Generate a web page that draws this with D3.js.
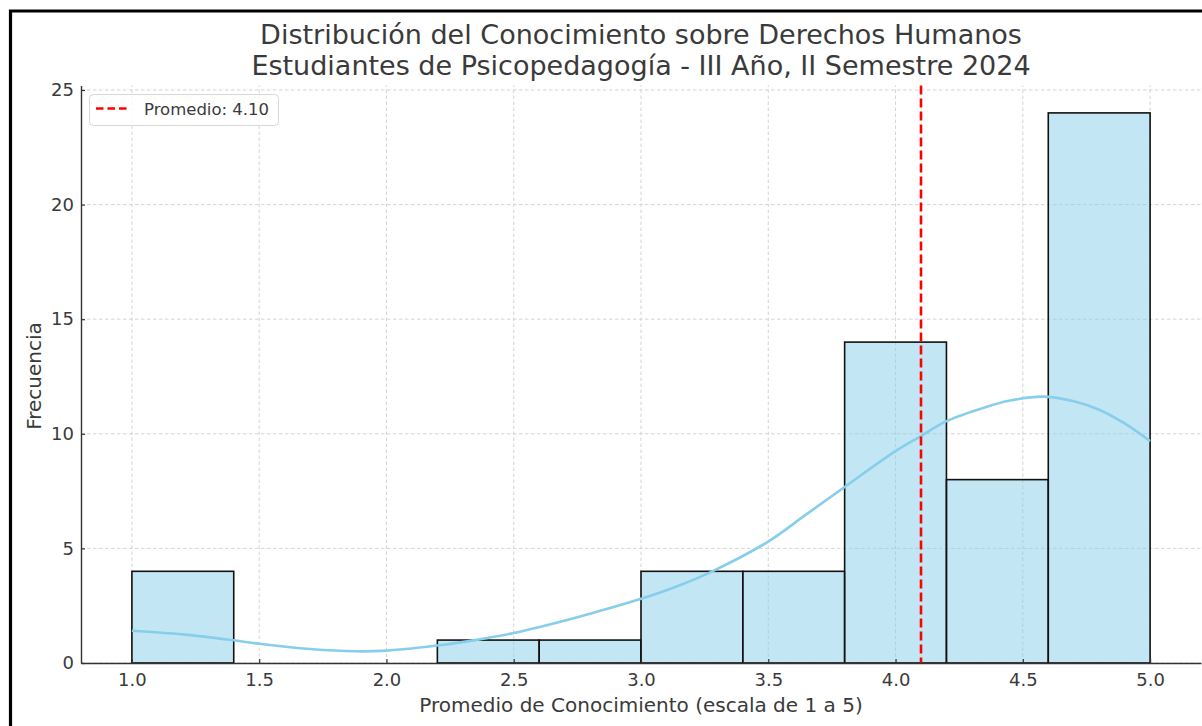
<!DOCTYPE html>
<html>
<head>
<meta charset="utf-8">
<script src="https://cdn.jsdelivr.net/npm/d3@7"></script>
<style>
  html, body { margin: 0; padding: 0; background: #fff; }
  svg { display: block; font-family: "DejaVu Sans", sans-serif; }
</style>
</head>
<body>
<svg id="chart" width="1202" height="726"></svg>
<script>
// ---- data ----
const binStarts = [1.0, 1.4, 1.8, 2.2, 2.6, 3.0, 3.4, 3.8, 4.2, 4.6];
const binWidth = 0.4;
const counts = [4, 0, 0, 1, 1, 4, 4, 14, 8, 24];
const kdeX = [1.0, 1.2, 1.4, 1.5, 1.7, 1.88, 2.0, 2.2, 2.36, 2.5, 2.75, 3.0, 3.14, 3.28, 3.5, 3.645, 3.8, 4.0, 4.1, 4.2, 4.35, 4.45, 4.58, 4.7, 4.8, 4.9, 5.0];
const kdeY = [1.41, 1.25, 0.99, 0.84, 0.61, 0.51, 0.54, 0.76, 1.02, 1.31, 2.0, 2.8, 3.34, 4.0, 5.3, 6.45, 7.68, 9.24, 9.9, 10.55, 11.15, 11.45, 11.62, 11.42, 11.05, 10.45, 9.68];
const meanValue = 4.10;
const xTicks = [1.0, 1.5, 2.0, 2.5, 3.0, 3.5, 4.0, 4.5, 5.0];
const yTicks = [0, 5, 10, 15, 20, 25];
const titleLines = ["Distribución del Conocimiento sobre Derechos Humanos",
                    "Estudiantes de Psicopedagogía - III Año, II Semestre 2024"];
const xLabel = "Promedio de Conocimiento (escala de 1 a 5)";
const yLabel = "Frecuencia";
const legendLabel = "Promedio: 4.10";

// ---- layout ----
const svg = d3.select("#chart");
const pLeft = 81, pRight = 1201, pTop = 85.4, pBottom = 663;
const x = d3.scaleLinear().domain([0.8, 5.2]).range([pLeft, pRight]);
const y = d3.scaleLinear().domain([0, 25.2]).range([pBottom, pTop]);
const textColor = "#3a3a3a";

// outer frame (partially visible)
svg.append("path")
  .attr("d", `M10.5,726 L10.5,11 L1202,11`)
  .attr("fill", "none").attr("stroke", "#000").attr("stroke-width", 3.2);

// grid
const grid = svg.append("g").attr("stroke", "#cfcfcf").attr("stroke-width", 0.9)
  .attr("stroke-dasharray", "3.5,2.5");
grid.selectAll(".gx").data(xTicks).join("line")
  .attr("x1", d => x(d)).attr("x2", d => x(d)).attr("y1", pBottom).attr("y2", pTop);
grid.selectAll(".gy").data(yTicks).join("line")
  .attr("x1", pLeft).attr("x2", pRight).attr("y1", d => y(d)).attr("y2", d => y(d));

// bars
svg.append("g").selectAll("rect").data(counts.map((c, i) => ({x0: binStarts[i], c})).filter(d => d.c > 0))
  .join("rect")
  .attr("x", d => x(d.x0))
  .attr("y", d => y(d.c))
  .attr("width", d => x(d.x0 + binWidth) - x(d.x0))
  .attr("height", d => y(0) - y(d.c))
  .attr("fill", "skyblue").attr("fill-opacity", 0.5)
  .attr("stroke", "#111").attr("stroke-width", 1.6);

// kde
const kdePts = kdeX.map((v, i) => [v, kdeY[i]]);
svg.append("path")
  .datum(kdePts)
  .attr("d", d3.line().x(d => x(d[0])).y(d => y(d[1])).curve(d3.curveCatmullRom.alpha(0.5)))
  .attr("fill", "none").attr("stroke", "skyblue").attr("stroke-width", 2.6);

// mean line
svg.append("line")
  .attr("x1", x(meanValue)).attr("x2", x(meanValue))
  .attr("y1", pTop).attr("y2", pBottom)
  .attr("stroke", "red").attr("stroke-width", 2.6)
  .attr("stroke-dasharray", "9,4");

// axes
const xAxis = d3.axisBottom(x).tickValues(xTicks).tickFormat(d3.format(".1f"))
  .tickSizeInner(-4).tickSizeOuter(0).tickPadding(10);
const gx = svg.append("g").attr("transform", `translate(0,${pBottom})`).call(xAxis);
const yAxis = d3.axisLeft(y).tickValues(yTicks).tickFormat(d3.format("d"))
  .tickSizeInner(-4).tickSizeOuter(0).tickPadding(7);
const gy = svg.append("g").attr("transform", `translate(${pLeft},0)`).call(yAxis);
[gx, gy].forEach(g => {
  g.select(".domain").attr("stroke", "#333").attr("stroke-width", 1.4);
  g.selectAll(".tick line").attr("stroke", "#333").attr("stroke-width", 1.2);
  g.selectAll(".tick text").attr("fill", textColor)
    .style("font-size", "18px").style("font-family", "DejaVu Sans");
});

// title
svg.append("g").selectAll("text").data(titleLines).join("text")
  .attr("x", (pLeft + pRight) / 2).attr("y", (d, i) => 44 + i * 31)
  .attr("text-anchor", "middle").attr("fill", textColor)
  .style("font-size", "27px").text(d => d);

// axis labels
svg.append("text").attr("x", (pLeft + pRight) / 2).attr("y", 712)
  .attr("text-anchor", "middle").attr("fill", textColor)
  .style("font-size", "20px").text(xLabel);
svg.append("text").attr("transform", `translate(41,376) rotate(-90)`)
  .attr("text-anchor", "middle").attr("fill", textColor)
  .style("font-size", "20px").text(yLabel);

// legend
const lg = svg.append("g");
lg.append("rect").attr("x", 89.5).attr("y", 94.5).attr("width", 189).attr("height", 31)
  .attr("rx", 4).attr("fill", "#fff").attr("fill-opacity", 0.8)
  .attr("stroke", "#d8d8d8").attr("stroke-width", 1);
lg.append("line").attr("x1", 96).attr("x2", 130).attr("y1", 108.5).attr("y2", 108.5)
  .attr("stroke", "red").attr("stroke-width", 2.6).attr("stroke-dasharray", "7.5,4");
lg.append("text").attr("x", 144).attr("y", 114.5).attr("fill", textColor)
  .style("font-size", "16.5px").text(legendLabel);
</script>
</body>
</html>
